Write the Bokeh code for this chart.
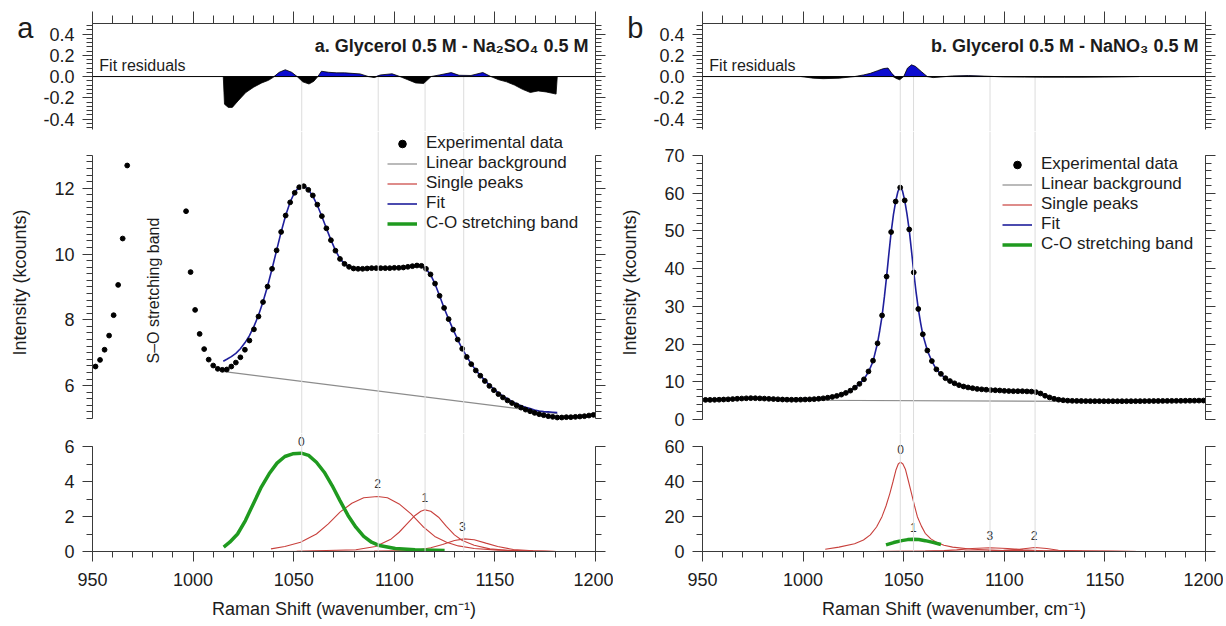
import numpy as np
from bokeh.plotting import figure
from bokeh.models import (Range1d, LinearAxis, SingleIntervalTicker, FixedTicker, Span, Label,
                          Legend, LegendItem, NumeralTickFormatter, CustomJSTickFormatter)
from bokeh.layouts import column, row
from bokeh.embed import file_html
from bokeh.resources import INLINE
from bokeh.core.properties import value

# ======================= DATA : panel a (Na2SO4) =======================
a_exp_x = [951.5, 953.75, 956.0, 958.25, 960.5, 962.75, 965.0, 967.25,
           996.5, 998.75, 1001.0, 1003.25, 1005.5, 1007.75, 1010.0, 1012.25, 1014.5, 1016.75,
           1019.0, 1021.25, 1023.5, 1025.75, 1028.0, 1030.25, 1032.5, 1034.75, 1037.0, 1039.25,
           1041.5, 1043.75, 1046.0, 1048.25, 1050.5, 1052.75, 1055.0, 1057.25, 1059.5, 1061.75,
           1064.0, 1066.25, 1068.5, 1070.75, 1073.0, 1075.25, 1077.5, 1079.75, 1082.0, 1084.25,
           1086.5, 1088.75, 1091.0, 1093.25, 1095.5, 1097.75, 1100.0, 1102.25, 1104.5, 1106.75,
           1109.0, 1111.25, 1113.5, 1115.75, 1118.0, 1120.25, 1122.5, 1124.75, 1127.0, 1129.25,
           1131.5, 1133.75, 1136.0, 1138.25, 1140.5, 1142.75, 1145.0, 1147.25, 1149.5, 1151.75,
           1154.0, 1156.25, 1158.5, 1160.75, 1163.0, 1165.25, 1167.5, 1169.75, 1172.0, 1174.25,
           1176.5, 1178.75, 1181.0, 1183.25, 1185.5, 1187.75, 1190.0, 1192.25, 1194.5, 1196.75, 1199.0]
a_exp_y = [6.58, 6.78, 7.09, 7.52, 8.14, 9.06, 10.47, 12.69,
           11.30, 9.45, 8.30, 7.57, 7.11, 6.79, 6.61, 6.51, 6.48, 6.49,
           6.58, 6.70, 6.86, 7.09, 7.37, 7.71, 8.10, 8.54, 9.01, 9.55,
           10.11, 10.67, 11.17, 11.57, 11.86, 12.03, 12.06, 11.95, 11.78, 11.50,
           11.15, 10.78, 10.42, 10.10, 9.85, 9.70, 9.61, 9.56, 9.55, 9.55,
           9.56, 9.57, 9.57, 9.57, 9.57, 9.57, 9.58, 9.58, 9.59, 9.61,
           9.63, 9.65, 9.64, 9.55, 9.38, 9.10, 8.73, 8.36, 8.02, 7.70,
           7.40, 7.12, 6.87, 6.65, 6.46, 6.30, 6.14, 5.99, 5.86, 5.74,
           5.64, 5.55, 5.47, 5.40, 5.33, 5.27, 5.22, 5.17, 5.13, 5.10,
           5.07, 5.05, 5.03, 5.03, 5.04, 5.04, 5.05, 5.06, 5.07, 5.09, 5.11]

a_fit_x = [1015.0, 1016.75, 1019.0, 1021.25, 1023.5, 1025.75, 1028.0, 1030.25, 1032.5, 1034.75,
           1037.0, 1039.25, 1041.5, 1043.75, 1046.0, 1048.25, 1050.5, 1052.75, 1055.0, 1057.25,
           1059.5, 1061.75, 1064.0, 1066.25, 1068.5, 1070.75, 1073.0, 1075.25, 1077.5, 1079.75,
           1082.0, 1084.25, 1086.5, 1088.75, 1091.0, 1093.25, 1095.5, 1097.75, 1100.0, 1102.25,
           1104.5, 1106.75, 1109.0, 1111.25, 1113.5, 1115.75, 1118.0, 1120.25, 1122.5, 1124.75,
           1127.0, 1129.25, 1131.5, 1133.75, 1136.0, 1138.25, 1140.5, 1142.75, 1145.0, 1147.25,
           1149.5, 1151.75, 1154.0, 1156.25, 1158.5, 1160.75, 1163.0, 1165.25, 1167.5, 1169.75,
           1172.0, 1174.25, 1176.5, 1178.75, 1181.0]
a_fit_y = [6.74, 6.80, 6.88, 6.98, 7.12, 7.30, 7.52, 7.80, 8.14, 8.55,
           9.02, 9.55, 10.11, 10.67, 11.17, 11.58, 11.88, 12.04, 12.07, 11.96,
           11.76, 11.48, 11.14, 10.78, 10.43, 10.11, 9.86, 9.70, 9.61, 9.56,
           9.54, 9.55, 9.56, 9.57, 9.57, 9.57, 9.57, 9.57, 9.58, 9.58,
           9.59, 9.61, 9.63, 9.65, 9.64, 9.55, 9.37, 9.09, 8.73, 8.36,
           8.02, 7.70, 7.40, 7.12, 6.88, 6.66, 6.47, 6.31, 6.16, 6.02,
           5.89, 5.78, 5.68, 5.60, 5.52, 5.45, 5.39, 5.34, 5.30, 5.26,
           5.23, 5.21, 5.20, 5.19, 5.18]

a_bg_x = [1014.5, 1181.0]
a_bg_y = [6.43, 5.15]

a_res_x = [1015.0, 1015.6, 1017.5, 1019.5, 1022.3, 1026.2, 1030.1, 1034.1, 1037.5, 1040.0,
           1042.8, 1045.8, 1049.0, 1051.7, 1054.5, 1057.6, 1060.0, 1062.0, 1063.8, 1067.4,
           1071.4, 1075.3, 1079.0, 1083.0, 1087.1, 1090.0, 1093.0, 1098.9, 1102.8, 1106.7,
           1110.6, 1114.6, 1118.3, 1122.4, 1128.3, 1132.2, 1138.1, 1144.0, 1148.0, 1151.9,
           1155.8, 1159.7, 1163.7, 1167.6, 1171.5, 1175.5, 1180.4, 1181.0]
a_res_y = [0.0, -0.26, -0.29, -0.29, -0.23, -0.15, -0.10, -0.06, -0.035, -0.005,
           0.04, 0.064, 0.04, 0.0, -0.05, -0.07, -0.045, 0.0, 0.05, 0.04,
           0.035, 0.035, 0.03, 0.025, 0.0, -0.01, 0.015, 0.026, 0.0, -0.03,
           -0.06, -0.065, 0.0, 0.015, 0.037, 0.012, 0.01, 0.038, 0.0, -0.03,
           -0.05, -0.08, -0.12, -0.15, -0.135, -0.145, -0.165, 0.0]

# C-O stretching band (green) and single peaks (red), panel a
a_co_x = [1015.2, 1018.2, 1022.1, 1026.0, 1029.9, 1033.9, 1037.8, 1041.7, 1045.6, 1049.5,
          1053.8, 1057.4, 1061.3, 1065.2, 1069.1, 1073.0, 1077.0, 1080.9, 1084.8, 1088.7,
          1092.6, 1100.5, 1110.3, 1125.0]
a_co_y = [0.25, 0.53, 1.00, 1.77, 2.72, 3.68, 4.44, 5.05, 5.43, 5.58,
          5.62, 5.49, 5.10, 4.53, 3.77, 2.91, 2.06, 1.39, 0.86, 0.53,
          0.34, 0.17, 0.10, 0.06]
a_p2_x = [1038.7, 1045.6, 1053.4, 1061.3, 1067.2, 1073.0, 1078.9, 1084.8, 1091.7, 1096.6,
          1102.4, 1108.3, 1114.2, 1120.1, 1126.0, 1131.8, 1139.7, 1151.4, 1169.0, 1180.8]
a_p2_y = [0.15, 0.29, 0.53, 1.00, 1.58, 2.25, 2.76, 3.07, 3.14, 3.07,
          2.72, 2.15, 1.43, 0.86, 0.53, 0.32, 0.17, 0.08, 0.02, 0.0]
a_p1_x = [1040.0, 1051.5, 1080.9, 1090.7, 1098.5, 1102.4, 1106.3, 1110.3, 1113.2, 1115.2,
          1118.1, 1122.0, 1125.9, 1129.9, 1133.8, 1139.7, 1147.5, 1159.2, 1180.8]
a_p1_y = [0.0, 0.01, 0.10, 0.29, 0.72, 1.10, 1.58, 2.06, 2.30, 2.38,
          2.30, 1.96, 1.43, 0.95, 0.63, 0.36, 0.15, 0.04, 0.0]
a_p3_x = [1040.0, 1090.0, 1110.3, 1118.1, 1124.0, 1129.9, 1134.8, 1139.7, 1145.5, 1151.4,
          1159.2, 1169.0, 1180.8]
a_p3_y = [0.0, 0.02, 0.06, 0.21, 0.40, 0.63, 0.72, 0.67, 0.48, 0.29,
          0.11, 0.04, 0.0]
a_lbl_text = ["0", "2", "1", "3"]
a_lbl_x = [1053.8, 1091.7, 1115.2, 1133.8]
a_lbl_y = [6.30, 3.87, 3.07, 1.43]
a_centres = [1054.0, 1092.0, 1115.3, 1134.5]

# ======================= DATA : panel b (NaNO3) =======================
b_exp_x = [951.5, 953.75, 956.0, 958.25, 960.5, 962.75, 965.0, 967.25, 969.5, 971.75,
           974.0, 976.25, 978.5, 980.75, 983.0, 985.25, 987.5, 989.75, 992.0, 994.25,
           996.5, 998.75, 1001.0, 1003.25, 1005.5, 1007.75, 1010.0, 1012.25, 1014.5, 1016.75,
           1019.0, 1021.25, 1023.5, 1025.75, 1028.0, 1030.25, 1032.5, 1034.75, 1037.0, 1039.25,
           1041.5, 1043.75, 1046.0, 1048.25, 1050.5, 1052.75, 1055.0, 1057.25, 1059.5, 1061.75,
           1064.0, 1066.25, 1068.5, 1070.75, 1073.0, 1075.25, 1077.5, 1079.75, 1082.0, 1084.25,
           1086.5, 1088.75, 1091.0, 1093.25, 1095.5, 1097.75, 1100.0, 1102.25, 1104.5, 1106.75,
           1109.0, 1111.25, 1113.5, 1115.75, 1118.0, 1120.25, 1122.5, 1124.75, 1127.0, 1129.25,
           1131.5, 1133.75, 1136.0, 1138.25, 1140.5, 1142.75, 1145.0, 1147.25, 1149.5, 1151.75,
           1154.0, 1156.25, 1158.5, 1160.75, 1163.0, 1165.25, 1167.5, 1169.75, 1172.0, 1174.25,
           1176.5, 1178.75, 1181.0, 1183.25, 1185.5, 1187.75, 1190.0, 1192.25, 1194.5, 1196.75, 1199.0]
b_exp_y = [5.20, 5.20, 5.22, 5.25, 5.30, 5.35, 5.42, 5.50, 5.56, 5.62,
           5.66, 5.64, 5.60, 5.54, 5.48, 5.42, 5.36, 5.30, 5.26, 5.24,
           5.24, 5.26, 5.30, 5.34, 5.40, 5.50, 5.62, 5.78, 5.98, 6.25,
           6.60, 7.05, 7.65, 8.45, 9.45, 10.65, 12.75, 15.6, 20.2, 27.6,
           37.9, 49.7, 57.8, 61.5, 58.1, 50.4, 39.0, 29.3, 22.6, 18.3,
           15.5, 13.3, 12.1, 10.95, 10.2, 9.6, 9.1, 8.75, 8.5, 8.3,
           8.1, 8.0, 7.9, 7.8, 7.75, 7.7, 7.6, 7.55, 7.5, 7.5,
           7.5, 7.45, 7.4, 7.25, 6.9, 6.3, 5.85, 5.5, 5.25, 5.1,
           5.0, 4.95, 4.92, 4.9, 4.88, 4.87, 4.86, 4.86, 4.85, 4.85,
           4.85, 4.85, 4.85, 4.85, 4.86, 4.86, 4.87, 4.88, 4.89, 4.90,
           4.91, 4.92, 4.93, 4.94, 4.95, 4.96, 4.97, 4.98, 4.99, 5.01, 5.03]

b_fit_x = [998.75, 1001.0, 1003.25, 1005.5, 1007.75, 1010.0, 1012.25, 1014.5, 1016.75, 1019.0,
           1021.25, 1023.5, 1025.75, 1028.0, 1030.25, 1032.5, 1034.75, 1037.0, 1038.1, 1039.25,
           1040.4, 1041.5, 1042.6, 1043.75, 1044.9, 1046.0, 1047.1, 1048.25, 1049.4, 1050.5,
           1051.6, 1052.75, 1053.9, 1055.0, 1056.1, 1057.25, 1058.4, 1059.5, 1061.75, 1064.0,
           1066.25, 1068.5, 1070.75, 1073.0, 1075.25, 1077.5, 1079.75, 1082.0, 1084.25, 1086.5,
           1088.75, 1091.0, 1093.25, 1095.5, 1097.75, 1100.0, 1102.25, 1104.5, 1106.75, 1109.0,
           1111.25, 1113.5, 1115.75, 1118.0, 1120.25, 1122.5, 1124.75, 1127.0, 1129.25, 1131.5,
           1133.75, 1136.0, 1140.5, 1145.0, 1150.0, 1155.0, 1160.0, 1167.0]
b_fit_y = [5.30, 5.32, 5.36, 5.42, 5.52, 5.64, 5.80, 6.00, 6.27, 6.62,
           7.06, 7.66, 8.46, 9.45, 10.70, 12.60, 15.40, 20.30, 23.60, 27.40,
           32.50, 37.90, 43.80, 49.60, 54.30, 57.80, 60.40, 61.80, 60.60, 58.10,
           54.60, 50.20, 44.60, 39.00, 34.00, 29.40, 25.60, 22.50, 18.30, 15.40,
           13.30, 12.00, 10.90, 10.20, 9.60, 9.10, 8.75, 8.50, 8.30, 8.10,
           8.00, 7.90, 7.80, 7.75, 7.70, 7.60, 7.55, 7.50, 7.50, 7.50,
           7.45, 7.40, 7.25, 6.90, 6.35, 5.85, 5.50, 5.25, 5.10, 5.00,
           4.95, 4.92, 4.88, 4.86, 4.85, 4.85, 4.85, 4.86]

b_bg_x = [999.0, 1167.0]
b_bg_y = [5.10, 4.75]

b_res_x = [999.0, 1005.0, 1010.0, 1018.0, 1025.6, 1030.0, 1033.4, 1037.0, 1040.0, 1042.2,
           1044.1, 1046.0, 1048.0, 1050.0, 1051.9, 1053.9, 1055.8, 1058.7, 1061.7, 1064.6,
           1068.5, 1074.3, 1082.1, 1090.0, 1099.6, 1110.0, 1119.0, 1130.0, 1138.6, 1150.0,
           1158.1, 1167.0]
b_res_y = [0.0, -0.015, -0.02, -0.015, 0.0, 0.015, 0.03, 0.055, 0.075, 0.08,
           0.03, -0.016, -0.03, 0.0, 0.08, 0.11, 0.096, 0.048, 0.0, -0.01,
           -0.004, 0.006, 0.01, 0.004, -0.003, -0.005, -0.006, -0.006, -0.006, -0.005,
           -0.003, 0.0]

b_p0_x = [1011.0, 1017.8, 1025.6, 1030.0, 1033.4, 1036.5, 1039.2, 1041.2, 1043.1, 1044.7,
          1046.1, 1047.3, 1048.4, 1049.6, 1050.9, 1052.4, 1053.9, 1055.4, 1056.8, 1058.8,
          1060.7, 1063.5, 1066.5, 1070.0, 1074.3, 1084.0, 1099.6, 1119.1, 1138.6, 1166.9]
b_p0_y = [1.3, 2.5, 4.4, 6.6, 9.5, 14.0, 19.9, 26.0, 33.1, 40.0,
          46.4, 50.0, 51.1, 50.0, 46.8, 40.0, 33.1, 26.0, 19.9, 14.5,
          10.4, 7.2, 5.1, 3.6, 2.5, 1.3, 0.6, 0.4, 0.2, 0.0]
b_co_x = [1041.2, 1045.0, 1049.0, 1052.0, 1054.8, 1057.5, 1060.7, 1064.5, 1068.5]
b_co_y = [3.8, 5.1, 6.2, 6.8, 7.0, 6.8, 6.2, 5.2, 4.0]
b_p3_x = [1035.0, 1060.7, 1070.0, 1076.3, 1084.0, 1092.8, 1101.6, 1109.4, 1119.1, 1138.6, 1166.9]
b_p3_y = [0.0, 0.2, 0.5, 0.95, 1.7, 2.1, 1.7, 0.95, 0.4, 0.2, 0.0]
b_p2_x = [1035.0, 1080.2, 1092.0, 1099.6, 1107.4, 1115.2, 1121.1, 1126.9, 1138.6, 1166.9]
b_p2_y = [0.0, 0.2, 0.45, 0.75, 1.3, 2.3, 1.7, 0.75, 0.2, 0.0]
b_lbl_text = ["0", "1", "3", "2"]
b_lbl_x = [1048.4, 1054.8, 1092.8, 1114.8]
b_lbl_y = [58.1, 13.8, 8.9, 8.9]
b_centres = [1048.3, 1054.9, 1092.9, 1115.3]

legend_labels = ["Experimental data", "Linear background", "Single peaks", "Fit", "C-O stretching band"]

# ======================= STYLE / LAYOUT =======================
FONT = "Liberation Sans"
AXC = "#3a3a3a"
TXT = "#1c1c1c"
GRIDC = "#dcdcdc"
FITC = "#1f1f9c"
REDC = "#c8403c"
GREENC = "#1f9a1f"
GRAYC = "#8c8c8c"
POSC = "#0c0cd0"
FW = 503

# page pixel layout (frame boundaries)
R_TOP, R_BOT = 23, 131
M_TOP, M_BOT = 131, 433
B_TOP, B_BOT = 433, 551


def yrange(v_top, px_top, v_bot, px_bot, f_top, f_bot):
    s = (px_bot - px_top) / (v_top - v_bot)
    return (v_bot - (f_bot - px_bot) / s, v_top + (px_top - f_top) / s)


def style_axis(ax, interval, minor, labels=True, fmt=None, out=10, mout=6):
    ax.ticker = SingleIntervalTicker(interval=interval, num_minor_ticks=minor)
    ax.axis_line_color = AXC
    ax.major_tick_line_color = AXC
    ax.minor_tick_line_color = AXC
    ax.major_tick_in = 0
    ax.minor_tick_in = 0
    ax.major_tick_out = out
    ax.minor_tick_out = mout
    ax.major_label_text_font = FONT
    ax.major_label_text_color = TXT
    if labels:
        ax.major_label_text_font_size = "18px"
        ax.major_label_standoff = 8
        if fmt:
            ax.formatter = NumeralTickFormatter(format=fmt)
    else:
        ax.major_label_text_font_size = "1px"
        ax.major_label_standoff = 0
        ax.formatter = CustomJSTickFormatter(code="return ''")
    return ax


def new_fig(fh, yr, bl, br, bt=0, bb=0):
    p = figure(frame_width=FW, frame_height=fh, x_range=Range1d(950, 1200),
               y_range=Range1d(*yr), output_backend="svg", toolbar_location=None,
               title=None, x_axis_location=None, y_axis_location=None,
               min_border_left=bl, min_border_right=br, min_border_top=bt,
               min_border_bottom=bb)
    p.xgrid.visible = False
    p.ygrid.visible = False
    p.outline_line_color = None
    p.background_fill_color = "white"
    p.border_fill_color = "white"
    return p


def make_column(cfg):
    bl, br = cfg["bl"], cfg["br"]
    # ---------- residuals ----------
    pr = new_fig(R_BOT - R_TOP, yrange(0.5, 22.9, -0.5, 129.2, R_TOP, R_BOT), bl, br, bt=R_TOP)
    top = style_axis(LinearAxis(), 50, 5, labels=False, out=12, mout=8)
    pr.add_layout(top, "above")
    la = style_axis(LinearAxis(bounds=(-0.5, 0.5)), 0.2, 5, fmt="0.0")
    pr.add_layout(la, "left")
    # panel letter carried by an extra tick-less, line-less left axis
    letter_ax = LinearAxis(ticker=FixedTicker(ticks=[]),
                           axis_line_color=None, major_tick_line_color=None,
                           minor_tick_line_color=None, major_label_text_font_size="1px",
                           major_label_standoff=0, major_tick_out=0, minor_tick_out=0,
                           axis_label=cfg["letter"] + "\n\n\n",
                           axis_label_orientation="horizontal",
                           axis_label_text_font=FONT, axis_label_text_font_size="29px",
                           axis_label_text_font_style="normal", axis_label_text_color=TXT,
                           axis_label_text_line_height=1.04,
                           axis_label_standoff=7)
    pr.add_layout(letter_ax, "left")
    ra = style_axis(LinearAxis(bounds=(-0.5, 0.5)), 0.2, 5, labels=False)
    pr.add_layout(ra, "right")
    pr.ray(x=cfg["centres"], y=0, length=0, angle=-np.pi / 2, color=GRIDC, line_width=1)
    rx = np.array(cfg["res_x"])
    ry = np.array(cfg["res_y"])
    pr.varea(x=rx, y1=np.zeros_like(ry), y2=np.maximum(ry, 0), fill_color=POSC)
    pr.varea(x=rx, y1=np.zeros_like(ry), y2=np.minimum(ry, 0), fill_color="black")
    pr.line(rx, ry, color="black", line_width=0.8)
    pr.add_layout(Span(location=0, dimension="width", line_color="black", line_width=1))
    pr.add_layout(Label(x=953.4, y=0.025, text="Fit residuals", text_font=FONT,
                        text_font_size="16px", text_color=TXT, text_baseline="bottom"))
    pr.add_layout(Label(x=1196.5, y=0.285, text=cfg["title"], text_font=FONT,
                        text_font_size="18px", text_font_style="bold", text_color=TXT,
                        text_align="right", text_baseline="middle"))

    # ---------- main spectrum ----------
    mt, mb = cfg["main_top"], cfg["main_bot"]
    pm = new_fig(M_BOT - M_TOP, yrange(mt[0], mt[1], mb[0], mb[1], M_TOP, M_BOT), bl, br)
    lm = style_axis(LinearAxis(bounds=(mb[0], mt[0])), cfg["m_int"], cfg["m_minor"], fmt="0")
    lm.axis_label = "Intensity (kcounts)"
    lm.axis_label_text_font = FONT
    lm.axis_label_text_font_size = "18px"
    lm.axis_label_text_font_style = "normal"
    lm.axis_label_text_color = TXT
    lm.axis_label_standoff = 21
    pm.add_layout(lm, "left")
    rm = style_axis(LinearAxis(bounds=(mb[0], mt[0])), cfg["m_int"], cfg["m_minor"], labels=False)
    pm.add_layout(rm, "right")
    for c in cfg["centres"]:
        pm.add_layout(Span(location=c, dimension="height", line_color=GRIDC, line_width=1))
    r_bg = pm.line(cfg["bg_x"], cfg["bg_y"], color=GRAYC, line_width=1.2)
    r_fit = pm.line(cfg["fit_x"], cfg["fit_y"], color=FITC, line_width=1.6)
    pm.scatter(cfg["exp_x"], cfg["exp_y"], size=4.8, color="black")
    r_dot = pm.scatter(x=[np.nan], y=[np.nan], size=9, color="black")
    r_red = pm.line(x=[np.nan, np.nan], y=[np.nan, np.nan], color=REDC, line_width=1.2)
    r_grn = pm.line(x=[np.nan, np.nan], y=[np.nan, np.nan], color=GREENC, line_width=3.5)
    if cfg.get("so_label"):
        pm.add_layout(Label(x=980.3, y=8.89, text="S\u2013O stretching band", text_font=FONT,
                            text_font_size="16px", text_color=TXT, angle=90,
                            angle_units="deg", text_align="center", text_baseline="middle"))
    leg = Legend(items=[LegendItem(label=legend_labels[0], renderers=[r_dot]),
                        LegendItem(label=legend_labels[1], renderers=[r_bg]),
                        LegendItem(label=legend_labels[2], renderers=[r_red]),
                        LegendItem(label=legend_labels[3], renderers=[r_fit]),
                        LegendItem(label=legend_labels[4], renderers=[r_grn])],
                 location=cfg["leg_loc"], label_text_font=FONT, label_text_font_size="17px",
                 label_text_color=TXT, glyph_width=30, glyph_height=19, label_height=19,
                 label_standoff=9, spacing=0, padding=0, margin=0,
                 border_line_alpha=0, background_fill_alpha=0)
    pm.add_layout(leg)

    # ---------- components ----------
    bt_ = cfg["b_top"]
    pb = new_fig(B_BOT - B_TOP, yrange(bt_[0], 446, 0, 551, B_TOP, B_BOT), bl, br, bb=72)
    xb = style_axis(LinearAxis(), 50, 5, fmt="0")
    xb.major_label_standoff = 11
    xb.axis_label = "Raman Shift (wavenumber, cm\u207b\u00b9)"
    xb.axis_label_text_font = FONT
    xb.axis_label_text_font_size = "18px"
    xb.axis_label_text_font_style = "normal"
    xb.axis_label_text_color = TXT
    xb.axis_label_standoff = 10
    pb.add_layout(xb, "below")
    lb = style_axis(LinearAxis(bounds=(0, bt_[0])), cfg["b_int"], 2, fmt="0")
    pb.add_layout(lb, "left")
    rb = style_axis(LinearAxis(bounds=(0, bt_[0])), cfg["b_int"], 2, labels=False)
    pb.add_layout(rb, "right")
    for c in cfg["centres"]:
        pb.add_layout(Span(location=c, dimension="height", line_color=GRIDC, line_width=1))
    for (px, py) in cfg["reds"]:
        pb.line(px, py, color=REDC, line_width=1.1)
    pb.line(cfg["co_x"], cfg["co_y"], color=GREENC, line_width=3.5)
    pb.text(x=cfg["lbl_x"], y=cfg["lbl_y"], text=cfg["lbl_text"], text_font=value(FONT),
            text_font_size=value("12px"), text_color="#333333", text_align="center",
            text_baseline="middle")
    return column(pr, pm, pb, spacing=0)


cfg_a = dict(bl=92, br=18, letter="a",
             title="a. Glycerol 0.5 M - Na\u2082SO\u2084 0.5 M",
             centres=a_centres, res_x=a_res_x, res_y=a_res_y,
             main_top=(13, 154.8), main_bot=(5, 418.0), m_int=2, m_minor=10,
             bg_x=a_bg_x, bg_y=a_bg_y, fit_x=a_fit_x, fit_y=a_fit_y,
             exp_x=a_exp_x, exp_y=a_exp_y, so_label=True, leg_loc=(295, 200),
             b_top=(6,), b_int=2,
             reds=[(a_p2_x, a_p2_y), (a_p1_x, a_p1_y), (a_p3_x, a_p3_y)],
             co_x=a_co_x, co_y=a_co_y, lbl_x=a_lbl_x, lbl_y=a_lbl_y, lbl_text=a_lbl_text)
cfg_b = dict(bl=89, br=18, letter="b",
             title="b. Glycerol 0.5 M - NaNO\u2083 0.5 M",
             centres=b_centres, res_x=b_res_x, res_y=b_res_y,
             main_top=(70, 155.0), main_bot=(0, 419.0), m_int=10, m_minor=5,
             bg_x=b_bg_x, bg_y=b_bg_y, fit_x=b_fit_x, fit_y=b_fit_y,
             exp_x=b_exp_x, exp_y=b_exp_y, so_label=False, leg_loc=(300, 179),
             b_top=(60,), b_int=20,
             reds=[(b_p0_x, b_p0_y), (b_p3_x, b_p3_y), (b_p2_x, b_p2_y)],
             co_x=b_co_x, co_y=b_co_y, lbl_x=b_lbl_x, lbl_y=b_lbl_y, lbl_text=b_lbl_text)

layout = row(make_column(cfg_a), make_column(cfg_b), spacing=0)
open("out.html", "w").write(file_html(layout, INLINE))
